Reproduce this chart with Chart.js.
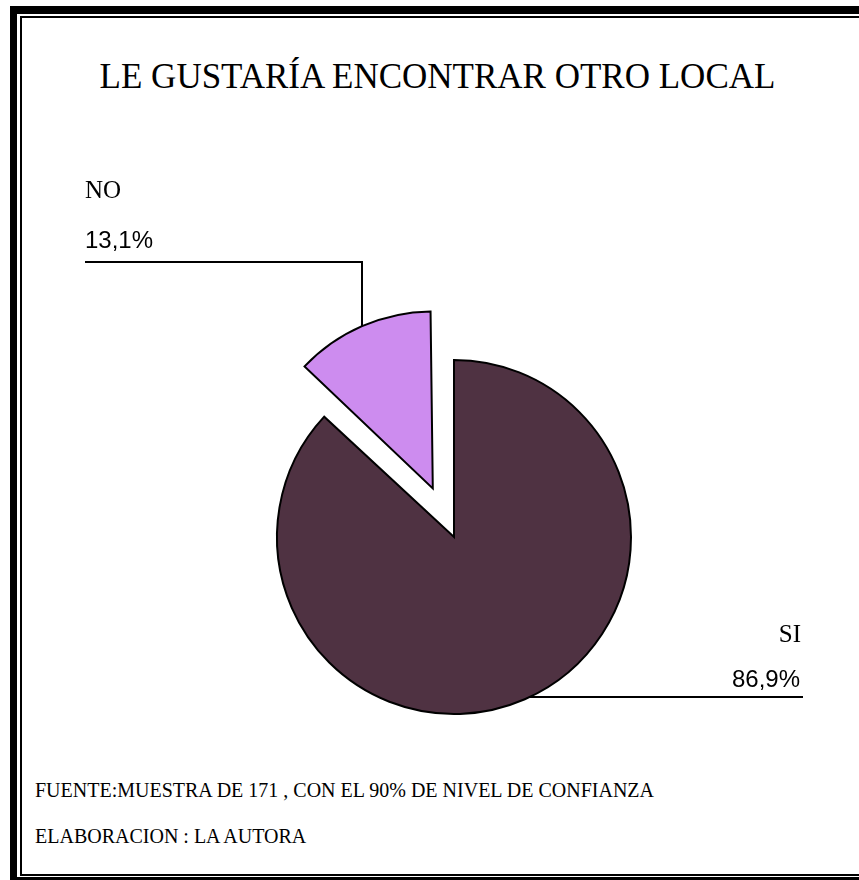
<!DOCTYPE html>
<html>
<head>
<meta charset="utf-8">
<script src="https://cdn.jsdelivr.net/npm/chart.js@4/dist/chart.umd.min.js"></script>
<style>
  html, body { margin:0; padding:0; background:#fff; overflow:hidden; }
  body { width:859px; height:880px; position:relative; }
  /* double frame: left, top and bottom only, right side runs off the picture */
  .bar { position:absolute; background:#000; }
  .title { position:absolute; left:0; top:59px; width:875px; text-align:center;
    font:35px/35px 'Liberation Serif','Times New Roman',serif; color:#000; white-space:nowrap; }
  .foot { position:absolute; left:35px; font:20px/20px 'Liberation Serif','Times New Roman',serif;
    color:#000; white-space:nowrap; }
  #pie { position:absolute; left:0; top:0; }
</style>
</head>
<body>
<div class="bar" style="left:10px;top:6px;width:7px;height:874px"></div>
<div class="bar" style="left:10px;top:6px;width:849px;height:8px"></div>
<div class="bar" style="left:10px;top:877px;width:849px;height:3px"></div>
<div class="bar" style="left:20px;top:16px;width:2px;height:860px"></div>
<div class="bar" style="left:20px;top:16px;width:839px;height:2px"></div>
<div class="bar" style="left:20px;top:874px;width:839px;height:2px"></div>
<div class="title">LE GUSTARÍA ENCONTRAR OTRO LOCAL</div>
<div class="foot" style="top:780px">FUENTE:MUESTRA DE 171 , CON EL 90% DE NIVEL DE CONFIANZA</div>
<div class="foot" style="top:826px">ELABORACION : LA AUTORA</div>
<canvas id="pie" width="859" height="880"></canvas>

<script>
// ── Data ──
const labels = ['SI', 'NO'];
const values = [86.9, 13.1];
const colors = ['#4F3242', '#CD8CEF'];
const explode = [0, 53];   // px the slice is pulled out

const fmt = v => v.toFixed(1).replace('.', ',') + '%';

// Chart.js moves a slice by offset/4 and also grows narrow slices, undo the growth
const keepRadius = {
  id: 'keepRadius',
  beforeDatasetsDraw(chart) {
    chart.getDatasetMeta(0).data.forEach(a => {
      const o = (a.options.offset || 0) / 4;
      const fix = 1 - Math.sin(Math.min(Math.PI, a.circumference));
      a._r0 = a.outerRadius;
      a.outerRadius = a._r0 - o * fix;
    });
  },
  afterDatasetsDraw(chart) {
    chart.getDatasetMeta(0).data.forEach(a => { a.outerRadius = a._r0; });
  }
};

// ── Leader lines + labels ──
const leaders = {
  id: 'leaders',
  afterDraw(chart) {
    const ctx = chart.ctx;
    const arcs = chart.getDatasetMeta(0).data;
    ctx.save();
    ctx.strokeStyle = '#000';
    ctx.lineWidth = 2;
    ctx.fillStyle = '#000';

    // NO: elbow line up to the left
    const no = arcs[1];
    const mid = (no.startAngle + no.endAngle) / 2;
    const sh = (no.options.offset || 0) / 4;
    const cx = no.x + Math.cos(mid) * sh, cy = no.y + Math.sin(mid) * sh;
    const r = no.outerRadius;
    const vx = 362, hy = 262;
    const vy = cy - Math.sqrt(r * r - (vx - cx) * (vx - cx));
    ctx.beginPath();
    ctx.moveTo(85, hy); ctx.lineTo(vx, hy); ctx.lineTo(vx, vy);
    ctx.stroke();
    ctx.textAlign = 'left';
    ctx.textBaseline = 'alphabetic';
    ctx.font = "25px 'Liberation Serif','Times New Roman',serif";
    ctx.fillText(labels[1], 85, 198);
    ctx.font = "24px 'Liberation Sans',Arial,sans-serif";
    ctx.fillText(fmt(values[1]), 85, 248);

    // SI: flat line out to the right
    const si = arcs[0];
    const ly = 697;
    const lx = si.x + Math.sqrt(si.outerRadius * si.outerRadius - (ly - si.y) * (ly - si.y));
    ctx.beginPath();
    ctx.moveTo(lx, ly); ctx.lineTo(803, ly);
    ctx.stroke();
    ctx.textAlign = 'right';
    ctx.font = "25px 'Liberation Serif','Times New Roman',serif";
    ctx.fillText(labels[0], 801, 642);
    ctx.font = "24px 'Liberation Sans',Arial,sans-serif";
    ctx.fillText(fmt(values[0]), 800, 687);
    ctx.restore();
  }
};

new Chart(document.getElementById('pie'), {
  type: 'pie',
  data: {
    labels: labels,
    datasets: [{
      data: values,
      backgroundColor: colors,
      borderColor: '#000',
      borderWidth: 2,
      borderJoinStyle: 'miter',
      offset: explode.map(e => e * 4)
    }]
  },
  options: {
    responsive: false,
    animation: false,
    radius: 177,
    layout: { padding: { left: 100, right: 51, top: 250, bottom: 56 } },
    plugins: { legend: { display: false }, tooltip: { enabled: false } }
  },
  plugins: [keepRadius, leaders]
});
</script>
</body>
</html>
